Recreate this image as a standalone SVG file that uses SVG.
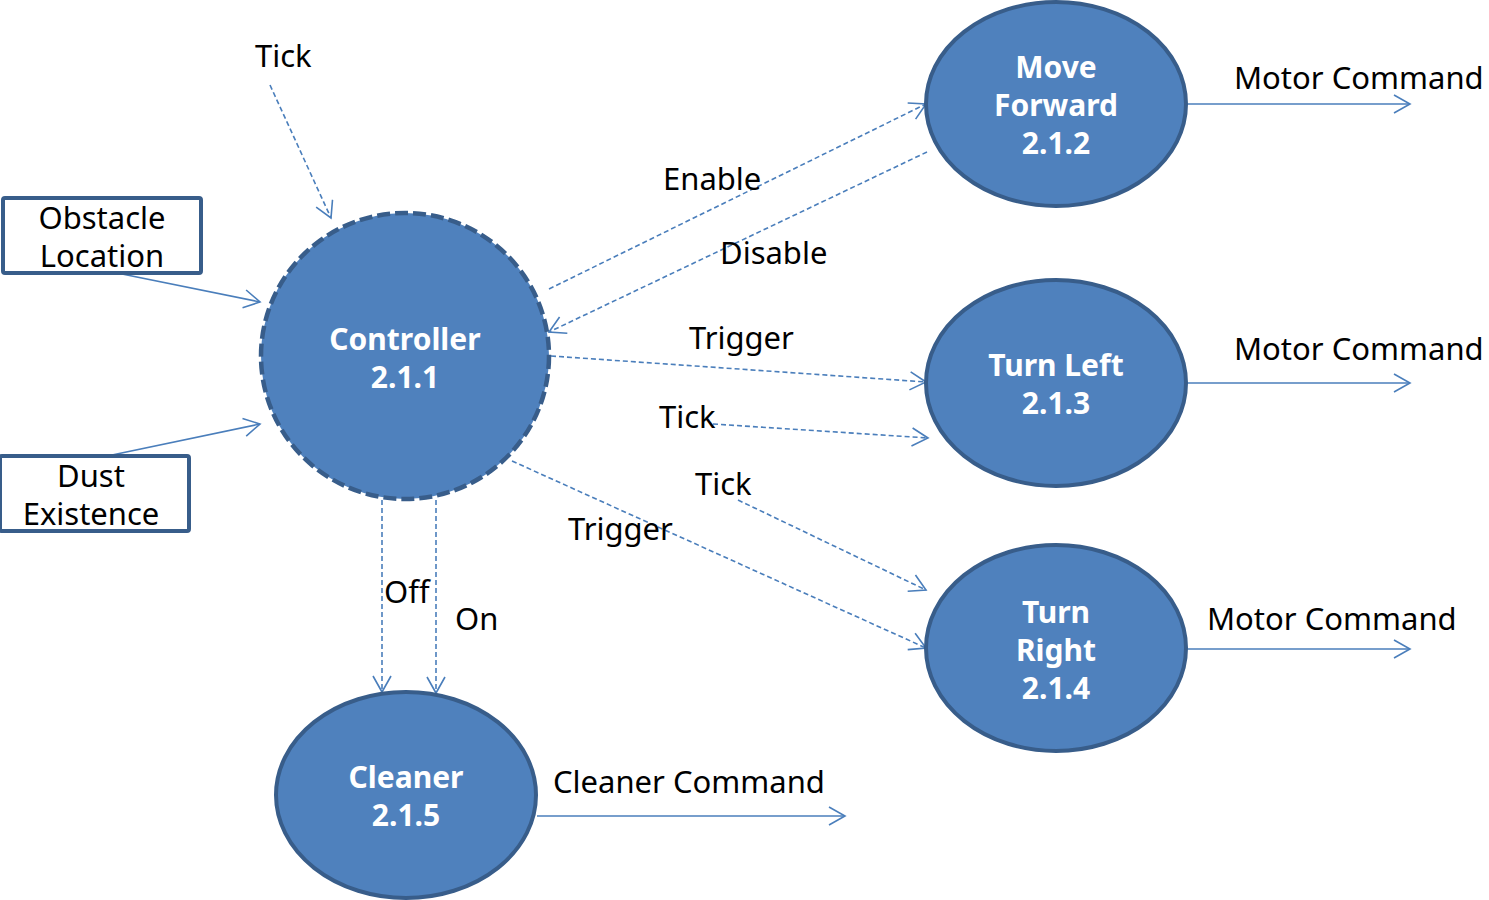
<svg xmlns="http://www.w3.org/2000/svg" width="1489" height="900" viewBox="0 0 1489 900">
<style>
.node{fill:#4F81BD;stroke:#385D8A;stroke-width:4}
.ctrl{stroke-width:4.5;stroke-dasharray:13 5}
.nt{font-family:"Noto Sans","Open Sans",sans-serif;font-weight:bold;font-size:30px;fill:#fff;text-anchor:middle}
.lb{font-family:"Noto Sans","Open Sans",sans-serif;font-size:31px;fill:#000}
.box{fill:#fff;stroke:#385D8A;stroke-width:4}
.c{fill:none;stroke:#4A7EBB;stroke-width:1.6;marker-end:url(#ah)}
.d{stroke-dasharray:5 3}
</style>
<defs>
<marker id="ah" viewBox="0 0 20 20" refX="18" refY="10" markerWidth="20" markerHeight="20" markerUnits="userSpaceOnUse" orient="auto">
<path d="M2,1 L18,10 L2,19" fill="none" stroke="#4A7EBB" stroke-width="1.6"/>
</marker>
</defs>
<g id="connectors">
<path class="c d" d="M270,85 L331,218"/>
<path class="c" d="M122,274 L260,302"/>
<path class="c" d="M112,455 L260,424"/>
<path class="c d" d="M549,289 L926,104"/>
<path class="c d" d="M927,152 L549,332"/>
<path class="c d" d="M551,356 L926,382"/>
<path class="c d" d="M713,424 L928,438"/>
<path class="c d" d="M738,500 L926,590"/>
<path class="c d" d="M512,461 L926,648"/>
<path class="c d" d="M382,500 L382,692"/>
<path class="c d" d="M436,500 L436,693"/>
<path class="c" d="M1187,104 L1410,104"/>
<path class="c" d="M1187,383 L1410,383"/>
<path class="c" d="M1187,649 L1410,649"/>
<path class="c" d="M537,816 L845,816"/>
</g>
<g id="labels">
<text class="lb" x="255" y="67">Tick</text>
<text class="lb" x="663" y="190">Enable</text>
<text class="lb" x="720" y="264">Disable</text>
<text class="lb" x="689" y="349">Trigger</text>
<text class="lb" x="659" y="428">Tick</text>
<text class="lb" x="695" y="495">Tick</text>
<text class="lb" x="568" y="540">Trigger</text>
<text class="lb" x="384" y="603">Off</text>
<text class="lb" x="455" y="630">On</text>
<text class="lb" x="1234" y="89">Motor Command</text>
<text class="lb" x="1234" y="360">Motor Command</text>
<text class="lb" x="1207" y="630">Motor Command</text>
<text class="lb" x="553" y="793">Cleaner Command</text>
</g>
<g id="obstacle">
<rect class="box" x="3" y="198" width="198" height="75" rx="2"/>
<text class="lb" x="102" y="229" text-anchor="middle">Obstacle</text>
<text class="lb" x="102" y="267" text-anchor="middle">Location</text>
</g>
<g id="dust">
<rect class="box" x="0" y="456" width="189" height="75" rx="2"/>
<text class="lb" x="91" y="487" text-anchor="middle">Dust</text>
<text class="lb" x="91" y="525" text-anchor="middle">Existence</text>
</g>
<g id="controller">
<ellipse class="node ctrl" cx="405" cy="356" rx="144" ry="143"/>
<text class="nt" x="405" y="350">Controller</text>
<text class="nt" x="405" y="388">2.1.1</text>
</g>
<g id="moveforward">
<ellipse class="node" cx="1056" cy="104" rx="130" ry="102"/>
<text class="nt" x="1056" y="78">Move</text>
<text class="nt" x="1056" y="116">Forward</text>
<text class="nt" x="1056" y="154">2.1.2</text>
</g>
<g id="turnleft">
<ellipse class="node" cx="1056" cy="383" rx="130" ry="103"/>
<text class="nt" x="1056" y="376">Turn Left</text>
<text class="nt" x="1056" y="414">2.1.3</text>
</g>
<g id="turnright">
<ellipse class="node" cx="1056" cy="648" rx="130" ry="103"/>
<text class="nt" x="1056" y="623">Turn</text>
<text class="nt" x="1056" y="661">Right</text>
<text class="nt" x="1056" y="699">2.1.4</text>
</g>
<g id="cleaner">
<ellipse class="node" cx="406" cy="795" rx="130" ry="103"/>
<text class="nt" x="406" y="788">Cleaner</text>
<text class="nt" x="406" y="826">2.1.5</text>
</g>
</svg>
